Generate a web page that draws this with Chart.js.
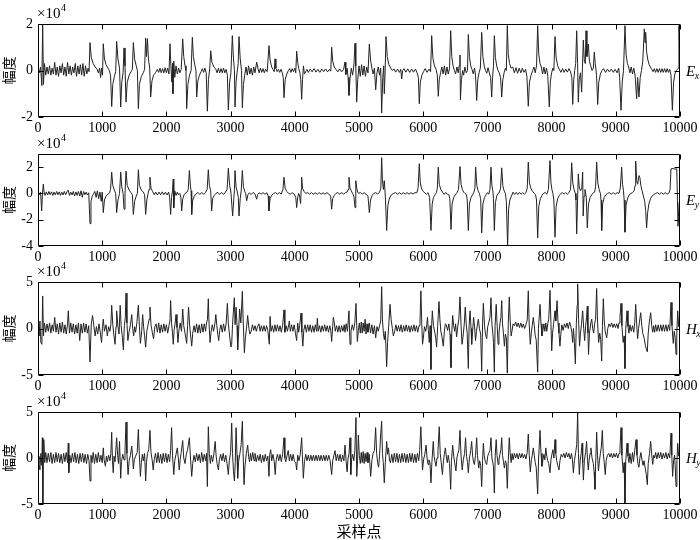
<!DOCTYPE html>
<html><head><meta charset="utf-8">
<script src="https://cdn.jsdelivr.net/npm/chart.js@4.4.0/dist/chart.umd.min.js"></script>
<style>
html,body{margin:0;padding:0;background:#fff;width:700px;height:540px;overflow:hidden}
canvas{position:absolute;left:0}
</style></head><body>
<script>
// ---- data (values in units of 10^4) ----
const xTicks = [0,1000,2000,3000,4000,5000,6000,7000,8000,9000,10000];
const yTicksEx = [-2,0,2];
const yTicksEy = [-4,-2,0,2];
const yTicksHx = [-5,0,5];
const yTicksHy = [-5,0,5];
const yRangeEx = [-2,2];
const yRangeEy = [-4,3];
const yRangeHx = [-5,5];
const yRangeHy = [-5,5];
const seriesNames = [["E","x"],["E","y"],["H","x"],["H","y"]];
const yTitle = "幅度";
const xTitle = "采样点";

const exPoints = [[0,0.05],[20,-0.1],[40,0.15],[60,-0.65],[73,2.0],[85,-0.6],[100,0.3],[120,-0.2],[140,0.15],[160,-0.15],[180,0.2],[200,-0.2],[220,0.1],[240,-0.15],[260,0.35],[280,-0.2],[300,0.15],[320,-0.25],[340,0.2],[360,-0.1],[380,0.3],[400,-0.2],[420,0.15],[440,-0.25],[460,0.35],[480,-0.15],[500,0.2],[520,-0.2],[540,0.15],[560,-0.1],[580,0.3],[600,-0.25],[620,0.2],[640,-0.15],[660,0.25],[680,-0.2],[700,0.3],[720,-0.25],[740,0.2],[760,-0.15],[780,0.1],[795,-0.05],[810,1.2],[830,0.55],[860,0.3],[890,0.15],[920,0.05],[940,-0.1],[960,0.1],[975,-0.3],[990,0.1],[1005,-0.2],[1017,1.15],[1035,0.5],[1060,0.25],[1090,0.1],[1110,0.0],[1130,-0.2],[1148,-1.55],[1165,-0.6],[1190,-0.25],[1210,-0.05],[1225,1.25],[1245,0.5],[1270,0.1],[1288,-1.57],[1305,-0.5],[1325,-0.1],[1340,0.97],[1355,0.2],[1371,-1.36],[1390,-0.5],[1420,-0.2],[1450,-0.05],[1470,0.05],[1485,1.2],[1505,0.5],[1530,0.2],[1548,0.0],[1563,-1.64],[1580,-0.6],[1610,-0.25],[1640,-0.1],[1660,0.05],[1677,1.39],[1690,0.6],[1705,1.37],[1720,0.5],[1740,0.1],[1755,-1.14],[1775,-0.45],[1800,-0.2],[1830,-0.1],[1860,0.05],[1880,-0.08],[1900,0.1],[1920,-0.1],[1940,0.08],[1960,-0.1],[1980,0.12],[2000,-0.1],[2020,0.1],[2040,-0.15],[2056,1.15],[2070,0.2],[2085,-0.5],[2095,0.3],[2102,-1.0],[2115,0.4],[2130,-0.3],[2150,0.2],[2170,-0.15],[2190,0.1],[2210,-0.1],[2230,0.05],[2254,1.36],[2270,0.6],[2290,0.2],[2305,0.0],[2316,-1.64],[2335,-0.6],[2360,-0.2],[2385,0.0],[2404,1.43],[2420,0.6],[2445,0.2],[2460,0.0],[2472,-1.14],[2490,-0.45],[2515,-0.2],[2540,-0.05],[2560,0.08],[2580,-0.08],[2600,0.1],[2620,-0.1],[2638,-1.75],[2655,-0.4],[2675,0.1],[2690,0.85],[2710,0.35],[2740,0.15],[2770,0.05],[2790,-0.1],[2810,0.1],[2830,-0.1],[2850,0.08],[2870,-0.1],[2890,0.1],[2910,-0.1],[2930,0.05],[2950,-0.2],[2965,-1.7],[2985,-0.5],[3005,-0.1],[3027,1.5],[3045,0.5],[3060,0.0],[3069,-1.57],[3085,-0.5],[3100,-0.1],[3118,0.3],[3131,1.46],[3150,0.5],[3170,0.0],[3183,-1.6],[3200,-0.6],[3220,-0.2],[3240,0.15],[3260,-0.2],[3280,0.2],[3300,-0.15],[3320,0.1],[3340,-0.2],[3360,0.15],[3380,-0.1],[3406,0.36],[3425,0.1],[3445,-0.1],[3465,0.1],[3485,-0.08],[3505,0.08],[3525,-0.1],[3545,0.05],[3570,-0.05],[3598,1.07],[3615,0.45],[3640,0.15],[3660,0.05],[3680,-0.05],[3692,0.5],[3705,0.1],[3725,-0.05],[3745,0.05],[3765,-0.08],[3785,0.05],[3805,-0.1],[3820,-0.3],[3832,-1.17],[3850,-0.4],[3875,-0.15],[3900,0.0],[3920,0.08],[3940,-0.08],[3960,0.08],[3980,-0.05],[4000,0.1],[4015,-0.1],[4029,0.83],[4045,0.35],[4060,0.1],[4080,-0.1],[4093,-0.4],[4107,-1.24],[4120,-0.4],[4135,0.2],[4150,-0.15],[4170,-0.05],[4190,0.05],[4210,-0.08],[4240,0.06],[4270,-0.06],[4300,0.08],[4330,-0.07],[4360,0.05],[4390,-0.08],[4420,0.06],[4450,-0.05],[4480,0.07],[4510,-0.06],[4540,0.05],[4560,-0.03],[4574,1.0],[4590,0.4],[4615,0.15],[4640,0.05],[4670,-0.06],[4700,0.07],[4730,-0.06],[4760,0.05],[4782,0.36],[4795,-0.17],[4815,0.1],[4830,-0.3],[4844,-1.07],[4860,-0.35],[4880,0.1],[4900,-0.2],[4920,0.2],[4938,1.17],[4950,0.2],[4964,-1.36],[4980,-0.4],[5000,0.2],[5020,-0.25],[5040,0.25],[5060,-0.2],[5080,0.2],[5100,-0.25],[5120,0.15],[5140,-0.1],[5161,1.14],[5180,0.45],[5200,0.1],[5220,-0.15],[5240,0.1],[5260,-0.83],[5280,-0.1],[5300,0.15],[5320,-0.2],[5338,0.1],[5353,-1.83],[5370,-0.3],[5385,0.2],[5394,-1.0],[5405,-0.2],[5421,1.46],[5440,0.6],[5465,0.25],[5495,0.1],[5520,0.0],[5545,0.07],[5570,-0.07],[5600,0.06],[5630,-0.08],[5650,0.05],[5665,-0.36],[5680,0.0],[5700,0.08],[5730,-0.07],[5760,0.07],[5790,-0.08],[5820,0.06],[5850,-0.07],[5880,0.06],[5905,-0.1],[5925,-0.3],[5939,-1.43],[5955,-0.5],[5980,-0.2],[6005,-0.05],[6030,0.08],[6060,-0.08],[6090,0.06],[6115,-0.05],[6132,1.5],[6150,0.55],[6175,0.2],[6200,0.05],[6220,-0.2],[6235,-1.11],[6250,-0.4],[6270,-0.1],[6290,0.15],[6310,-0.15],[6330,0.2],[6350,-0.2],[6370,0.15],[6390,-0.15],[6410,0.1],[6428,1.71],[6445,0.6],[6465,0.2],[6485,0.0],[6505,-0.15],[6525,0.15],[6545,-0.1],[6560,0.2],[6573,0.67],[6580,-1.26],[6595,-0.4],[6615,0.0],[6630,-0.2],[6650,0.15],[6670,-0.1],[6690,0.0],[6703,1.55],[6720,0.6],[6740,0.2],[6760,0.05],[6780,-0.15],[6800,0.1],[6815,-0.2],[6833,-1.29],[6850,-0.4],[6870,-0.1],[6890,0.1],[6911,1.64],[6930,0.6],[6950,0.2],[6970,0.0],[6990,-0.12],[7010,0.12],[7030,-0.1],[7050,-0.3],[7067,-1.14],[7080,-0.3],[7095,0.2],[7108,1.5],[7125,0.55],[7145,0.2],[7165,0.0],[7185,-0.1],[7205,-0.3],[7223,-1.14],[7240,-0.4],[7260,-0.1],[7280,0.1],[7295,0.0],[7310,1.93],[7325,0.7],[7345,0.3],[7370,0.1],[7395,0.15],[7420,-0.1],[7445,0.12],[7470,-0.12],[7495,0.1],[7520,-0.1],[7545,0.1],[7570,-0.08],[7595,0.05],[7615,-0.25],[7637,-1.54],[7655,-0.5],[7680,-0.2],[7705,0.0],[7725,0.15],[7745,-0.1],[7765,0.2],[7783,1.93],[7800,0.7],[7820,0.3],[7840,0.15],[7860,-0.15],[7880,0.15],[7900,-0.15],[7920,0.1],[7940,-0.2],[7964,-1.57],[7980,-0.5],[8000,-0.1],[8020,0.1],[8035,0.0],[8053,1.46],[8070,0.55],[8095,0.2],[8120,0.05],[8145,-0.08],[8170,0.08],[8195,-0.08],[8220,0.06],[8245,-0.07],[8270,0.08],[8295,-0.05],[8315,-0.3],[8329,-1.46],[8345,-0.4],[8360,0.0],[8375,0.3],[8391,1.71],[8405,0.3],[8416,-1.36],[8430,-0.4],[8450,-0.1],[8468,-0.93],[8480,0.1],[8494,1.31],[8510,0.4],[8525,0.3],[8536,1.71],[8550,0.6],[8572,1.14],[8590,0.4],[8610,0.2],[8630,0.0],[8650,0.1],[8665,0.79],[8680,0.3],[8700,-0.2],[8718,-1.46],[8735,-0.5],[8760,-0.15],[8785,0.0],[8810,0.08],[8840,-0.08],[8870,0.06],[8900,-0.06],[8930,0.06],[8960,-0.08],[8990,0.05],[9020,-0.1],[9045,0.1],[9060,-0.3],[9081,-1.71],[9100,-0.5],[9120,0.0],[9143,1.93],[9160,0.7],[9180,0.3],[9200,0.15],[9220,-0.1],[9240,0.15],[9260,-0.15],[9280,0.1],[9300,-0.2],[9325,-1.21],[9340,-0.3],[9361,-1.14],[9380,-0.3],[9400,0.0],[9420,0.4],[9444,1.79],[9455,1.2],[9465,1.64],[9480,0.8],[9500,0.45],[9520,0.25],[9540,0.15],[9560,0.05],[9580,-0.05],[9600,0.08],[9620,-0.08],[9640,0.08],[9660,-0.08],[9680,0.08],[9700,-0.08],[9720,0.08],[9740,-0.08],[9760,0.08],[9780,-0.08],[9800,0.08],[9820,-0.08],[9840,0.05],[9860,-0.2],[9881,-1.71],[9900,-0.5],[9920,-0.15],[9940,0.0],[9960,0.05],[9975,0.1],[9984,1.93],[10000,0.0]];

const eyPoints = [[0,0.05],[20,-0.1],[40,0.1],[57,-1.33],[70,0.0],[83,0.72],[95,0.1],[110,-0.15],[130,0.12],[150,-0.12],[170,0.15],[190,-0.1],[210,0.12],[230,-0.15],[250,0.1],[270,-0.12],[290,0.15],[310,-0.1],[330,0.12],[350,-0.15],[370,0.1],[390,-0.12],[410,0.15],[430,-0.1],[450,0.12],[470,0.25],[490,-0.15],[510,0.1],[530,-0.12],[550,0.15],[570,-0.2],[590,0.12],[610,-0.15],[630,0.15],[650,-0.2],[670,0.2],[690,-0.3],[710,0.15],[730,-0.1],[750,0.1],[770,-0.12],[790,0.05],[810,-2.3],[825,-0.6],[845,-0.2],[865,-0.05],[885,0.15],[905,-0.3],[925,0.2],[945,-0.4],[965,0.1],[985,-0.6],[1000,0.1],[1017,-1.46],[1035,-0.5],[1060,-0.2],[1090,-0.05],[1115,0.05],[1130,0.3],[1148,1.62],[1165,0.6],[1190,0.25],[1210,0.0],[1225,-1.46],[1245,-0.5],[1270,0.0],[1288,1.62],[1305,0.5],[1325,0.0],[1340,-1.2],[1355,0.0],[1371,1.7],[1390,0.6],[1420,0.25],[1450,0.05],[1470,-0.1],[1485,-1.6],[1505,-0.6],[1530,-0.2],[1548,0.0],[1563,1.8],[1580,0.6],[1610,0.25],[1640,0.1],[1660,-0.1],[1677,-1.6],[1695,-0.5],[1715,0.0],[1730,0.3],[1744,1.23],[1760,0.4],[1785,0.15],[1810,-0.1],[1835,0.1],[1860,-0.12],[1885,0.1],[1910,-0.1],[1935,0.12],[1960,-0.1],[1985,0.1],[2010,-0.12],[2035,0.1],[2050,-0.3],[2066,-1.6],[2080,-0.3],[2095,0.2],[2107,1.1],[2115,-1.1],[2130,0.2],[2150,-0.15],[2170,0.1],[2190,-0.1],[2210,0.0],[2225,-0.3],[2238,-1.33],[2255,-0.4],[2275,-0.1],[2300,0.05],[2320,0.1],[2340,0.3],[2358,1.74],[2375,0.5],[2385,0.2],[2394,-1.6],[2410,-0.5],[2435,-0.2],[2460,-0.05],[2490,0.08],[2520,-0.08],[2550,0.08],[2580,-0.08],[2610,0.08],[2635,0.3],[2653,1.8],[2670,0.6],[2690,0.2],[2705,-1.33],[2720,-0.4],[2745,-0.15],[2770,0.0],[2800,0.08],[2830,-0.08],[2860,0.08],[2890,-0.08],[2920,0.1],[2945,0.3],[2965,1.92],[2985,0.6],[3005,0.1],[3032,-1.72],[3050,-0.4],[3060,0.3],[3069,1.74],[3085,0.5],[3105,0.1],[3120,-0.3],[3131,-1.72],[3150,-0.4],[3165,0.2],[3183,1.74],[3200,0.5],[3220,0.15],[3235,0.0],[3250,-0.56],[3270,-0.1],[3290,0.05],[3320,-0.08],[3350,0.08],[3380,-0.05],[3406,-0.44],[3420,-0.1],[3445,0.05],[3475,-0.06],[3505,0.06],[3535,-0.06],[3565,0.05],[3585,-0.2],[3598,-1.33],[3615,-0.4],[3640,-0.15],[3670,0.0],[3700,0.06],[3730,-0.06],[3760,0.06],[3790,-0.05],[3815,0.3],[3832,1.23],[3850,0.4],[3875,0.15],[3900,0.02],[3930,-0.06],[3960,0.06],[3990,-0.05],[4015,-0.3],[4029,-1.08],[4045,-0.3],[4060,0.0],[4075,-0.2],[4090,-0.77],[4100,0.3],[4107,1.23],[4120,0.4],[4145,0.15],[4170,0.0],[4200,0.06],[4230,-0.06],[4260,0.06],[4290,-0.06],[4320,0.05],[4350,-0.06],[4380,0.06],[4410,-0.06],[4440,0.05],[4470,-0.06],[4500,0.06],[4530,-0.05],[4558,-0.2],[4574,-1.2],[4590,-0.4],[4615,-0.15],[4640,0.0],[4670,0.06],[4700,-0.06],[4730,0.06],[4760,-0.05],[4790,0.06],[4815,0.1],[4830,0.3],[4844,1.23],[4860,0.4],[4880,0.2],[4900,0.0],[4920,-0.2],[4938,-1.08],[4950,0.97],[4965,0.4],[4980,0.1],[4995,0.0],[5020,0.08],[5050,-0.06],[5080,0.06],[5110,-0.06],[5140,-0.2],[5161,-1.46],[5180,-0.5],[5205,-0.15],[5230,0.0],[5260,0.06],[5290,-0.05],[5320,0.1],[5340,0.4],[5353,2.72],[5365,1.0],[5380,0.3],[5394,0.97],[5410,-0.2],[5431,-2.82],[5450,-0.9],[5475,-0.35],[5505,-0.1],[5540,0.0],[5570,0.06],[5600,-0.06],[5630,0.06],[5660,-0.06],[5690,0.06],[5720,-0.05],[5750,0.06],[5780,-0.06],[5810,0.06],[5840,-0.05],[5870,0.06],[5900,0.05],[5920,0.4],[5939,2.26],[5955,0.8],[5975,0.35],[6000,0.15],[6025,0.05],[6050,-0.06],[6075,0.06],[6100,-0.3],[6121,-2.82],[6140,-0.8],[6160,-0.3],[6185,-0.1],[6205,0.05],[6220,0.4],[6235,2.0],[6250,0.7],[6275,0.3],[6300,0.1],[6325,-0.08],[6350,0.08],[6375,-0.06],[6400,-0.1],[6415,-0.4],[6433,-2.74],[6450,-0.8],[6475,-0.3],[6500,-0.1],[6525,0.05],[6550,0.3],[6573,2.05],[6590,0.7],[6610,0.3],[6630,0.1],[6650,0.0],[6670,-0.06],[6685,-0.4],[6703,-2.82],[6720,-0.8],[6745,-0.3],[6770,-0.1],[6790,0.1],[6805,0.4],[6817,2.0],[6835,0.6],[6855,0.2],[6875,0.0],[6895,-0.4],[6911,-3.0],[6930,-0.8],[6955,-0.3],[6980,-0.1],[7000,0.06],[7020,-0.06],[7040,0.3],[7056,2.0],[7070,0.6],[7085,0.2],[7095,-0.4],[7108,-2.82],[7125,-0.7],[7145,-0.2],[7165,0.0],[7185,0.06],[7205,0.4],[7223,1.95],[7240,0.6],[7260,0.2],[7280,0.0],[7295,-0.6],[7315,-4.0],[7330,-1.2],[7350,-0.5],[7375,-0.2],[7400,0.1],[7425,-0.08],[7450,0.08],[7475,-0.08],[7500,0.08],[7525,-0.06],[7550,0.06],[7575,-0.06],[7600,0.05],[7620,0.4],[7637,2.38],[7655,0.8],[7680,0.35],[7705,0.15],[7730,0.0],[7750,-0.1],[7765,-0.5],[7783,-3.38],[7800,-1.0],[7825,-0.4],[7850,-0.15],[7875,0.0],[7900,0.08],[7925,-0.06],[7950,0.3],[7975,2.5],[7990,0.8],[8005,0.3],[8020,0.0],[8035,-0.5],[8053,-3.33],[8070,-1.0],[8095,-0.4],[8120,-0.15],[8145,0.0],[8170,0.06],[8195,-0.06],[8220,0.06],[8245,-0.06],[8270,0.06],[8295,0.3],[8313,2.33],[8330,0.8],[8350,0.3],[8370,0.0],[8380,-0.5],[8391,-3.08],[8405,-0.5],[8416,1.49],[8430,0.5],[8450,0.2],[8470,0.4],[8484,1.62],[8492,-1.72],[8505,-0.2],[8520,0.3],[8540,-0.3],[8556,-2.62],[8575,-0.8],[8600,-0.3],[8625,-0.1],[8650,0.05],[8670,0.1],[8685,0.5],[8702,2.38],[8720,0.8],[8740,0.3],[8760,0.0],[8770,-0.5],[8780,-2.82],[8795,-0.8],[8820,-0.3],[8845,-0.1],[8870,0.0],[8900,0.06],[8930,-0.06],[8960,0.06],[8990,-0.06],[9020,0.06],[9050,0.0],[9070,0.4],[9091,2.0],[9105,0.7],[9120,0.2],[9130,-0.5],[9143,-2.95],[9160,-0.9],[9185,-0.35],[9210,-0.1],[9235,0.0],[9260,0.06],[9285,0.2],[9300,0.6],[9310,2.46],[9325,1.0],[9340,0.7],[9361,1.36],[9375,1.2],[9390,0.6],[9410,0.2],[9430,-0.2],[9450,-0.6],[9465,-1.3],[9480,-2.62],[9495,-1.5],[9515,-0.8],[9540,-0.4],[9565,-0.2],[9590,-0.1],[9620,0.0],[9650,0.06],[9680,-0.06],[9710,0.06],[9740,-0.06],[9770,0.06],[9800,-0.06],[9830,0.05],[9845,0.3],[9860,1.87],[9890,1.9],[9920,1.85],[9950,1.87],[9969,-2.5],[9985,-0.8],[10000,-0.3]];

const hxPoints = [[0,0.2],[15,-0.8],[30,0.8],[45,-1.5],[60,-1.7],[73,3.5],[85,-0.8],[100,0.6],[120,-0.4],[140,0.5],[160,-0.3],[180,0.6],[200,-0.5],[220,0.4],[240,-0.3],[260,1.2],[280,-0.4],[300,0.5],[320,-0.6],[340,0.6],[360,-0.4],[380,0.7],[400,-0.5],[420,0.4],[440,-0.6],[460,0.5],[472,1.9],[490,-0.5],[510,0.6],[530,-0.4],[550,0.5],[570,-0.6],[590,0.4],[610,-0.5],[630,0.6],[650,-1.3],[670,0.5],[690,-0.5],[710,0.6],[730,-0.4],[750,0.5],[770,-0.5],[790,0.3],[810,-3.6],[830,0.5],[850,1.4],[870,0.3],[890,-0.8],[910,0.2],[930,-0.6],[950,0.5],[970,-0.4],[990,-1.5],[1005,0.2],[1017,1.0],[1035,-0.3],[1060,0.4],[1080,-0.8],[1100,0.2],[1120,-0.3],[1135,0.4],[1148,2.5],[1165,0.4],[1180,-0.6],[1200,-1.7],[1215,0.2],[1225,1.9],[1245,0.2],[1262,-0.6],[1280,2.5],[1295,0.3],[1315,-1.0],[1330,-2.3],[1345,0.3],[1360,1.2],[1371,3.8],[1385,0.6],[1400,-1.3],[1420,-0.3],[1440,0.4],[1460,1.5],[1475,0.0],[1490,-0.8],[1505,0.2],[1520,-0.4],[1540,0.6],[1563,2.5],[1580,0.2],[1595,-1.6],[1615,-0.3],[1630,1.5],[1645,0.2],[1660,-0.8],[1677,-2.0],[1695,-0.3],[1715,0.4],[1730,1.0],[1744,2.3],[1760,0.4],[1780,-0.4],[1800,-1.1],[1820,0.2],[1840,0.5],[1860,-0.4],[1880,0.6],[1900,-0.5],[1920,0.4],[1940,-0.4],[1960,0.5],[1980,-0.3],[2000,0.4],[2020,-0.5],[2040,0.3],[2055,0.8],[2066,3.0],[2080,0.6],[2095,-0.5],[2107,-1.7],[2120,-0.2],[2135,0.5],[2150,1.5],[2165,0.1],[2180,-1.5],[2195,-0.2],[2215,0.6],[2235,-0.3],[2254,2.1],[2270,0.3],[2290,-0.5],[2316,-1.6],[2330,0.3],[2345,2.3],[2360,0.5],[2375,-0.6],[2394,-1.9],[2410,-0.5],[2430,0.3],[2450,-0.4],[2470,0.5],[2490,-0.5],[2510,0.4],[2530,-0.5],[2550,0.5],[2570,-0.4],[2590,0.5],[2610,-0.3],[2625,0.6],[2640,1.0],[2653,3.2],[2665,0.4],[2680,-1.5],[2695,-0.4],[2715,0.4],[2735,-0.3],[2755,0.5],[2770,1.5],[2785,0.3],[2800,-0.6],[2815,-1.3],[2830,-0.2],[2850,0.4],[2870,-0.4],[2890,0.5],[2910,-0.3],[2930,0.5],[2950,2.7],[2965,0.5],[2985,-0.8],[3005,-2.0],[3017,-1.7],[3030,0.4],[3058,3.3],[3070,0.4],[3085,2.3],[3100,0.3],[3110,-2.3],[3125,-0.3],[3140,2.1],[3160,0.6],[3183,4.0],[3195,1.0],[3215,-2.6],[3230,-1.0],[3250,0.2],[3266,1.4],[3285,0.0],[3300,-0.6],[3320,-0.3],[3340,0.4],[3360,-0.2],[3380,0.3],[3400,-0.3],[3420,0.2],[3442,0.5],[3460,-0.3],[3480,0.3],[3500,-0.3],[3520,0.3],[3540,-0.3],[3560,0.3],[3580,-0.2],[3603,-1.7],[3615,1.3],[3630,-0.3],[3650,0.3],[3670,-0.4],[3690,0.4],[3710,-0.3],[3730,0.4],[3750,-0.3],[3770,0.3],[3790,-0.4],[3810,0.3],[3832,2.0],[3845,-0.4],[3865,0.3],[3885,-0.3],[3905,0.4],[3915,0.8],[3930,-0.3],[3950,0.4],[3970,-0.3],[3990,0.4],[4010,-0.5],[4029,-1.3],[4045,0.6],[4060,-0.4],[4075,0.3],[4097,1.65],[4110,-0.4],[4125,-1.9],[4140,-0.2],[4160,0.4],[4180,-0.4],[4200,0.4],[4220,-0.3],[4240,0.4],[4260,-0.4],[4280,0.3],[4300,-0.4],[4320,0.4],[4340,-0.3],[4351,1.1],[4365,-0.3],[4385,0.3],[4405,-0.4],[4425,0.3],[4445,-0.3],[4465,0.4],[4485,-0.3],[4505,0.3],[4525,-0.4],[4545,0.3],[4560,-0.2],[4574,-1.4],[4590,0.2],[4600,1.2],[4616,0.6],[4630,-0.3],[4650,0.3],[4670,-0.4],[4690,0.3],[4710,-0.4],[4730,0.3],[4750,-0.3],[4770,0.4],[4782,-0.4],[4800,0.5],[4820,-0.3],[4844,1.9],[4860,-1.7],[4875,-0.3],[4895,0.4],[4915,-0.2],[4935,0.6],[4953,2.7],[4965,0.3],[4974,-1.4],[4990,-0.2],[5005,0.6],[5020,-0.5],[5035,0.7],[5050,-0.5],[5065,0.6],[5080,-0.3],[5095,1.0],[5110,-0.6],[5125,0.5],[5140,-0.4],[5160,0.6],[5180,-0.5],[5200,0.4],[5220,-0.6],[5240,0.3],[5260,-1.0],[5280,0.2],[5300,-0.3],[5320,0.3],[5338,0.8],[5353,4.5],[5365,1.0],[5380,-0.5],[5395,-1.2],[5410,-0.3],[5431,-4.1],[5445,-1.5],[5465,0.5],[5483,2.6],[5500,1.0],[5520,0.0],[5535,-0.8],[5555,-0.3],[5575,0.4],[5595,-0.3],[5615,0.3],[5635,-0.3],[5655,0.4],[5675,-0.4],[5695,0.3],[5715,-0.3],[5735,0.4],[5755,-0.3],[5775,0.3],[5795,-0.4],[5815,0.3],[5835,-0.3],[5855,0.4],[5875,-0.3],[5895,0.3],[5915,-0.4],[5935,0.3],[5950,0.8],[5964,4.05],[5978,0.5],[5990,-1.7],[6005,-0.8],[6020,0.2],[6040,-0.3],[6055,0.4],[6067,1.2],[6080,-0.2],[6095,-1.5],[6108,0.3],[6121,-4.4],[6131,0.2],[6142,1.9],[6160,0.3],[6180,-0.4],[6195,-1.0],[6209,-2.0],[6225,0.2],[6246,2.9],[6260,1.0],[6275,-0.3],[6295,-1.0],[6313,-1.9],[6330,-0.3],[6345,0.5],[6360,0.4],[6380,-0.2],[6400,0.5],[6418,-0.6],[6433,-4.2],[6445,-0.5],[6459,1.4],[6475,0.3],[6490,-0.3],[6505,0.5],[6520,-0.9],[6540,0.3],[6555,1.0],[6573,3.4],[6590,0.3],[6605,-1.7],[6620,-0.9],[6640,0.5],[6655,2.3],[6670,0.5],[6685,-0.5],[6703,-4.3],[6715,0.3],[6730,1.9],[6745,0.0],[6755,-1.7],[6770,-0.3],[6785,1.2],[6800,0.2],[6815,-1.3],[6830,-0.3],[6845,0.5],[6860,1.0],[6875,0.0],[6895,-0.6],[6911,-4.6],[6925,0.5],[6937,2.7],[6955,0.3],[6970,-0.6],[6989,-1.1],[7005,0.2],[7020,0.6],[7040,1.2],[7056,3.3],[7070,0.5],[7085,-0.5],[7095,-1.5],[7108,-4.7],[7120,0.3],[7137,2.6],[7150,0.6],[7167,-1.7],[7180,-0.5],[7195,0.5],[7210,1.2],[7223,3.0],[7235,0.5],[7250,-0.5],[7265,-1.9],[7280,-0.6],[7295,-1.0],[7310,-4.8],[7325,0.5],[7341,3.4],[7355,0.8],[7370,-0.8],[7385,-0.2],[7400,0.5],[7420,0.3],[7440,0.7],[7460,0.2],[7480,0.6],[7500,0.1],[7520,0.6],[7540,0.1],[7560,0.5],[7580,0.0],[7600,0.4],[7620,0.9],[7637,4.05],[7650,0.6],[7668,-1.7],[7685,-0.4],[7700,0.4],[7715,1.2],[7730,0.3],[7745,-0.8],[7760,-1.2],[7783,-4.7],[7795,0.0],[7820,2.6],[7835,0.5],[7850,-0.8],[7865,-0.2],[7880,0.5],[7895,-0.3],[7910,0.6],[7925,-0.3],[7940,0.5],[7955,1.0],[7975,4.1],[7990,0.5],[8002,-2.4],[8015,-0.5],[8030,0.4],[8053,1.9],[8065,0.8],[8085,3.0],[8100,0.6],[8115,-0.5],[8130,-1.9],[8145,-0.5],[8160,0.4],[8180,-0.2],[8200,0.5],[8220,0.1],[8240,0.6],[8260,0.0],[8280,0.7],[8300,0.2],[8315,-0.4],[8329,-1.5],[8340,0.0],[8355,-1.5],[8370,-3.8],[8385,0.5],[8398,2.5],[8406,4.8],[8420,1.0],[8435,-1.9],[8450,-0.5],[8465,0.4],[8484,1.9],[8500,0.0],[8515,-1.3],[8530,0.3],[8545,1.2],[8556,2.4],[8566,-0.5],[8575,-2.8],[8590,-0.5],[8610,0.6],[8625,1.0],[8640,0.0],[8655,-0.5],[8670,0.5],[8685,1.0],[8702,4.3],[8715,0.8],[8733,-1.5],[8750,-0.5],[8765,-1.2],[8780,-3.5],[8792,0.3],[8806,3.2],[8820,0.8],[8835,-0.3],[8858,-1.0],[8875,0.0],[8895,0.5],[8915,0.2],[8935,0.6],[8955,0.1],[8975,0.5],[8995,0.1],[9015,0.5],[9035,0.0],[9050,0.6],[9065,1.2],[9081,2.7],[9095,0.3],[9115,-1.5],[9130,-0.8],[9143,-4.3],[9155,0.0],[9175,1.9],[9190,0.2],[9205,-0.5],[9220,0.4],[9240,-0.3],[9260,0.3],[9280,-0.4],[9295,0.6],[9310,2.6],[9325,0.5],[9340,-1.1],[9355,0.0],[9370,0.8],[9388,1.7],[9405,0.3],[9420,-0.5],[9440,-1.0],[9460,-1.8],[9475,-2.2],[9491,-2.5],[9505,-0.5],[9520,0.6],[9543,1.7],[9560,0.3],[9575,-0.4],[9590,0.3],[9605,-0.4],[9620,0.4],[9640,-0.3],[9660,0.4],[9680,-0.3],[9700,0.4],[9720,-0.3],[9740,0.4],[9760,-0.3],[9780,0.4],[9800,-0.3],[9820,0.4],[9840,-0.2],[9860,2.8],[9875,0.3],[9895,-1.6],[9910,-0.3],[9925,-1.0],[9938,-2.8],[9950,-0.5],[9964,1.9],[9980,0.2],[10000,0.5]];

const hyPoints = [[0,0.2],[15,-0.6],[30,-1.3],[45,0.5],[60,-0.8],[68,2.2],[75,-5.0],[82,-0.3],[90,2.0],[105,-0.5],[120,0.6],[140,-0.5],[160,0.5],[180,-0.4],[200,0.6],[220,-0.6],[240,0.4],[260,-0.5],[280,0.6],[300,-0.4],[320,0.5],[340,-0.5],[360,0.4],[380,-0.6],[400,0.5],[420,-0.4],[440,0.6],[460,-0.5],[472,1.6],[480,-1.6],[495,0.3],[515,-0.5],[535,0.5],[555,-0.4],[575,0.6],[595,-0.5],[615,0.4],[635,-0.6],[655,0.5],[675,-0.4],[695,0.5],[715,-0.5],[735,0.4],[755,-0.6],[775,0.4],[795,-0.3],[810,-2.5],[825,0.3],[840,-0.5],[860,0.6],[880,-0.6],[900,0.4],[920,-0.5],[940,0.6],[960,-0.4],[980,0.3],[1000,-0.5],[1017,1.1],[1030,-0.2],[1050,-0.9],[1065,0.2],[1080,-0.4],[1100,0.3],[1120,-0.3],[1135,0.5],[1148,2.8],[1160,-0.3],[1172,-1.6],[1185,0.2],[1200,-0.4],[1225,2.2],[1240,0.3],[1255,-0.6],[1270,1.8],[1288,-2.2],[1300,-0.4],[1320,0.4],[1340,-0.2],[1355,0.8],[1371,3.9],[1385,0.5],[1403,-1.8],[1420,-0.3],[1440,0.3],[1460,1.3],[1475,0.0],[1485,-1.2],[1500,-0.2],[1520,0.2],[1545,0.6],[1563,3.1],[1578,0.4],[1595,-2.0],[1610,-0.5],[1625,0.4],[1640,-0.3],[1660,0.5],[1677,-2.5],[1690,-0.5],[1705,0.5],[1725,0.9],[1744,3.0],[1760,0.6],[1780,-0.3],[1795,-1.3],[1810,-0.2],[1830,0.5],[1850,-0.5],[1870,0.6],[1890,-0.5],[1910,0.4],[1930,-0.6],[1950,0.5],[1970,-0.4],[1990,0.5],[2010,-0.5],[2030,0.4],[2050,-0.4],[2065,0.8],[2081,3.3],[2095,0.3],[2115,-1.8],[2130,-0.3],[2150,0.4],[2170,1.1],[2185,0.0],[2200,-1.3],[2215,-0.2],[2230,0.6],[2254,1.9],[2270,0.0],[2290,-0.6],[2310,0.4],[2330,0.9],[2358,2.2],[2375,0.0],[2394,-2.0],[2410,-0.6],[2430,0.3],[2450,-0.4],[2470,0.5],[2490,-0.3],[2510,0.4],[2530,-0.5],[2550,0.6],[2570,-0.4],[2590,0.4],[2610,-0.3],[2625,0.5],[2638,-3.1],[2653,3.4],[2668,0.5],[2685,-0.6],[2700,0.3],[2720,-0.4],[2740,0.5],[2760,1.8],[2775,0.2],[2790,-0.6],[2810,-1.3],[2825,-0.2],[2845,0.4],[2865,-0.3],[2885,0.5],[2905,-0.4],[2925,0.3],[2945,-0.6],[2965,-1.8],[2980,-0.3],[3000,0.6],[3017,3.8],[3030,0.5],[3045,-1.5],[3060,-2.5],[3072,-0.5],[3085,3.3],[3100,0.3],[3110,-2.2],[3125,-0.4],[3145,0.5],[3165,1.5],[3183,4.0],[3195,0.5],[3209,-2.9],[3225,-0.8],[3245,0.5],[3266,1.4],[3280,0.2],[3295,-0.4],[3310,0.5],[3325,-0.3],[3345,0.6],[3365,-0.3],[3380,0.5],[3400,-0.4],[3420,0.3],[3440,-0.3],[3460,0.4],[3480,-0.5],[3500,0.3],[3520,-0.4],[3540,0.4],[3560,-0.3],[3580,0.2],[3598,-2.0],[3610,0.4],[3625,0.9],[3640,-0.3],[3660,0.4],[3680,-0.4],[3695,-1.8],[3710,-0.2],[3730,0.4],[3750,-0.3],[3770,0.4],[3790,-0.4],[3810,0.4],[3832,2.2],[3845,0.0],[3860,-0.4],[3880,0.3],[3898,0.8],[3915,-0.3],[3935,0.4],[3955,-0.3],[3975,0.4],[3995,-0.4],[4015,-0.5],[4029,-1.3],[4045,0.3],[4065,-0.3],[4085,0.4],[4107,2.2],[4120,0.0],[4133,-2.2],[4150,-0.4],[4170,0.4],[4190,-0.3],[4210,0.3],[4230,-0.3],[4250,0.3],[4270,-0.3],[4290,0.3],[4310,-0.3],[4330,0.3],[4350,-0.3],[4370,0.3],[4390,-0.3],[4410,0.3],[4430,-0.3],[4450,0.3],[4470,-0.3],[4490,0.3],[4510,-0.3],[4530,0.3],[4550,-0.3],[4574,-1.8],[4590,-0.3],[4610,0.3],[4626,0.8],[4645,-0.3],[4665,0.4],[4685,-0.3],[4705,0.4],[4725,-0.4],[4745,0.3],[4765,-0.3],[4782,1.4],[4800,-0.4],[4815,-1.5],[4830,0.0],[4845,0.5],[4860,2.2],[4872,-1.8],[4885,-0.2],[4900,0.4],[4920,-0.3],[4935,0.8],[4953,4.4],[4965,-2.0],[4978,-0.3],[4990,2.5],[5005,0.3],[5020,-0.6],[5035,0.6],[5050,-0.5],[5065,0.7],[5080,-0.6],[5095,0.5],[5110,-0.4],[5125,0.6],[5140,-0.5],[5160,0.4],[5182,-2.0],[5200,-0.3],[5220,0.5],[5240,0.8],[5259,3.3],[5275,0.5],[5290,-0.5],[5305,-1.0],[5320,0.2],[5337,2.5],[5353,4.0],[5365,0.5],[5378,-0.5],[5394,-2.7],[5410,-0.5],[5431,1.8],[5445,0.4],[5460,1.1],[5475,-0.3],[5490,-0.5],[5510,0.4],[5530,-0.5],[5550,0.5],[5570,-0.4],[5590,0.5],[5610,-0.5],[5630,0.4],[5650,-0.5],[5670,0.5],[5690,-0.4],[5710,0.5],[5730,-0.5],[5750,0.4],[5770,-0.5],[5790,0.5],[5810,-0.4],[5830,0.5],[5850,-0.5],[5870,0.4],[5890,-0.5],[5910,0.5],[5930,-0.3],[5945,0.8],[5964,3.4],[5978,0.3],[5990,-1.3],[6005,-0.2],[6025,0.4],[6045,1.4],[6060,0.0],[6075,-0.7],[6090,-0.2],[6105,-0.5],[6121,-2.7],[6135,-0.5],[6157,1.8],[6170,0.2],[6185,-0.4],[6200,-0.9],[6215,0.0],[6230,0.8],[6250,3.4],[6265,0.5],[6280,-0.5],[6300,-1.8],[6315,-0.3],[6330,0.4],[6345,1.1],[6360,0.2],[6375,-0.5],[6390,0.3],[6410,-0.6],[6428,-3.4],[6440,-0.3],[6459,1.4],[6475,0.2],[6490,-0.5],[6510,-1.4],[6525,0.0],[6540,0.5],[6555,0.8],[6573,3.0],[6590,0.2],[6608,-1.3],[6625,-0.2],[6645,0.5],[6660,2.2],[6675,0.2],[6690,-0.5],[6703,-1.6],[6720,0.0],[6740,0.8],[6755,1.8],[6770,0.2],[6785,-0.5],[6798,-0.7],[6815,0.3],[6833,2.2],[6845,0.3],[6865,-1.1],[6880,-0.3],[6895,-0.8],[6911,-3.1],[6925,-0.3],[6937,1.6],[6950,0.3],[6970,-0.5],[6989,-0.7],[7005,0.2],[7020,0.5],[7040,0.8],[7056,2.2],[7070,0.0],[7085,-0.5],[7095,-1.0],[7108,-3.8],[7122,0.3],[7137,2.0],[7150,0.3],[7167,-0.7],[7180,-0.2],[7195,0.4],[7210,0.9],[7223,2.2],[7235,0.3],[7250,-0.4],[7265,-1.1],[7280,-0.3],[7295,-0.6],[7310,-3.3],[7325,-0.3],[7341,2.2],[7355,0.5],[7370,-0.5],[7385,0.5],[7400,-0.2],[7420,0.5],[7440,0.0],[7460,0.5],[7480,-0.1],[7500,0.5],[7520,0.0],[7540,0.5],[7560,0.0],[7580,0.4],[7600,-0.1],[7620,0.6],[7637,2.6],[7652,0.3],[7668,-1.5],[7685,-0.2],[7700,0.3],[7715,1.1],[7730,0.3],[7745,-0.5],[7760,-1.0],[7783,-3.9],[7798,0.0],[7820,3.0],[7835,0.5],[7850,-0.9],[7865,-0.2],[7880,0.4],[7895,-0.2],[7910,1.1],[7925,0.2],[7940,-0.3],[7955,-0.6],[7975,-1.6],[7990,-0.2],[8005,0.4],[8020,0.9],[8035,0.0],[8053,2.0],[8065,0.5],[8080,-0.3],[8095,-0.8],[8115,-1.3],[8130,-0.3],[8150,0.4],[8170,0.1],[8190,0.5],[8210,0.0],[8230,0.6],[8250,0.1],[8270,0.5],[8290,-0.1],[8310,0.5],[8325,-0.2],[8339,-1.6],[8355,-0.3],[8375,0.6],[8392,1.5],[8406,5.0],[8418,0.5],[8432,-1.8],[8445,-0.3],[8460,0.5],[8475,1.6],[8484,-0.5],[8495,-2.4],[8510,-0.3],[8530,0.6],[8545,1.8],[8560,-0.3],[8572,-1.3],[8585,-0.2],[8600,0.5],[8612,1.1],[8630,0.0],[8650,-0.6],[8662,-1.5],[8675,-3.4],[8690,0.2],[8702,2.8],[8715,0.3],[8730,-1.4],[8745,-0.3],[8760,0.5],[8775,1.2],[8790,3.0],[8805,0.5],[8820,-0.5],[8836,-1.8],[8850,-0.3],[8870,0.3],[8890,0.5],[8910,0.1],[8930,0.5],[8950,0.0],[8970,0.5],[8990,0.1],[9010,0.5],[9030,0.0],[9050,0.5],[9065,1.0],[9081,3.3],[9095,0.3],[9115,-1.6],[9130,-0.5],[9143,-5.0],[9155,-0.3],[9175,1.6],[9190,0.2],[9205,-0.5],[9220,0.5],[9240,-0.6],[9260,0.6],[9275,-0.4],[9295,0.8],[9315,2.0],[9330,0.3],[9345,-0.6],[9360,-1.0],[9375,0.0],[9390,0.6],[9410,-0.3],[9425,-0.8],[9440,-0.3],[9460,-1.2],[9475,-1.8],[9491,-2.9],[9505,-0.6],[9525,0.5],[9543,1.8],[9560,0.3],[9575,-0.7],[9590,0.3],[9605,0.0],[9620,0.6],[9640,-0.1],[9660,0.6],[9680,0.0],[9700,0.6],[9720,-0.1],[9740,0.5],[9760,0.0],[9780,0.6],[9800,-0.1],[9820,0.5],[9840,0.0],[9860,2.7],[9872,0.3],[9885,-2.0],[9900,-0.3],[9915,0.3],[9925,-0.8],[9938,-3.1],[9952,-0.3],[9964,1.6],[9980,0.2],[10000,0.5]];

// ---- layout ----
const PANELS = [
  {pts: exPoints, ticks: yTicksEx, range: yRangeEx, top: 24,  bottom: 117},
  {pts: eyPoints, ticks: yTicksEy, range: yRangeEy, top: 154, bottom: 246},
  {pts: hxPoints, ticks: yTicksHx, range: yRangeHx, top: 282, bottom: 375},
  {pts: hyPoints, ticks: yTicksHy, range: yRangeHy, top: 412, bottom: 504}
];
const PAD_TOP = 24, X_AXIS_H = 22, LEFT_W = 38, RIGHT_PAD = 20;
const SERIF = '"Liberation Serif", "Times New Roman", serif';
const CJK = '"Noto Sans CJK SC", sans-serif';

function framePlugin(k, canvasTop, isLast) {
  return {
    id: 'frame' + k,
    afterDraw(chart) {
      const ctx = chart.ctx, a = chart.chartArea;
      const xs = chart.scales.x, ys = chart.scales.y;
      const L = Math.round(a.left) + 0.5, R = Math.round(a.right) - 0.5;
      const T = Math.round(a.top) + 0.5, B = Math.round(a.bottom) - 0.5;
      ctx.save();
      ctx.strokeStyle = '#000'; ctx.lineWidth = 1;
      ctx.beginPath();
      ctx.rect(L, T, R - L, B - T);
      const tl = 5;
      xTicks.forEach(v => {
        const px = Math.round(xs.getPixelForValue(v)) + 0.5;
        ctx.moveTo(px, B); ctx.lineTo(px, B - tl);
        ctx.moveTo(px, T); ctx.lineTo(px, T + tl);
      });
      PANELS[k].ticks.forEach(v => {
        const py = Math.round(ys.getPixelForValue(v)) + 0.5;
        ctx.moveTo(L, py); ctx.lineTo(L + tl, py);
        ctx.moveTo(R, py); ctx.lineTo(R - tl, py);
      });
      ctx.stroke();
      ctx.fillStyle = '#000';
      // x10^4
      ctx.textAlign = 'left'; ctx.textBaseline = 'alphabetic';
      ctx.font = '15px ' + SERIF;
      ctx.fillText('×10', a.left - 1, a.top - 6);
      const w = ctx.measureText('×10').width;
      ctx.font = '10px ' + SERIF;
      ctx.fillText('4', a.left - 1 + w + 0.5, a.top - 13);
      // right label
      const cy = (a.top + a.bottom) / 2;
      const nm = seriesNames[k];
      ctx.font = 'italic 15px ' + SERIF;
      ctx.fillText(nm[0], a.right + 6, cy + 5);
      const w2 = ctx.measureText(nm[0]).width;
      ctx.font = 'italic 10px ' + SERIF;
      ctx.fillText(nm[1], a.right + 6 + w2 - 0.5, cy + 8);
      // y title
      ctx.save();
      ctx.translate(9, cy);
      ctx.rotate(-Math.PI / 2);
      ctx.textAlign = 'center'; ctx.textBaseline = 'middle';
      ctx.font = '14px ' + CJK;
      ctx.fillText(yTitle, 0, 0);
      ctx.restore();
      if (isLast) {
        ctx.textAlign = 'center'; ctx.textBaseline = 'middle';
        ctx.font = '15px ' + CJK;
        ctx.fillText(xTitle, (a.left + a.right) / 2, 531 - canvasTop);
      }
      ctx.restore();
    }
  };
}

PANELS.forEach((p, k) => {
  const isLast = k === PANELS.length - 1;
  const padBottom = isLast ? 20 : 0;
  const canvasTop = p.top - PAD_TOP;
  const h = (p.bottom - p.top) + PAD_TOP + X_AXIS_H + padBottom;
  const cv = document.createElement('canvas');
  cv.width = 700; cv.height = h;
  cv.style.top = canvasTop + 'px';
  cv.style.width = '700px'; cv.style.height = h + 'px';
  document.body.appendChild(cv);
  new Chart(cv, {
    type: 'line',
    data: { datasets: [{
      data: p.pts.map(d => ({x: d[0], y: d[1]})),
      borderColor: '#222', borderWidth: 1, pointRadius: 0, tension: 0, fill: false
    }]},
    options: {
      responsive: false, animation: false, events: [], devicePixelRatio: 1,
      parsing: false,
      layout: { padding: { top: PAD_TOP, right: RIGHT_PAD, left: 0, bottom: padBottom } },
      plugins: { legend: { display: false }, tooltip: { enabled: false } },
      scales: {
        x: {
          type: 'linear', min: 0, max: 10000,
          grid: { display: false, drawTicks: false }, border: { display: false },
          afterBuildTicks: s => { s.ticks = xTicks.map(v => ({value: v})); },
          ticks: { font: { family: SERIF, size: 14 }, color: '#000', padding: 3,
                   maxRotation: 0, autoSkip: false, callback: v => String(v) },
          afterFit: s => { s.height = X_AXIS_H; s.paddingLeft = 0; s.paddingRight = 0; }
        },
        y: {
          type: 'linear', min: p.range[0], max: p.range[1],
          grid: { display: false, drawTicks: false }, border: { display: false },
          afterBuildTicks: s => { s.ticks = p.ticks.map(v => ({value: v})); },
          ticks: { font: { family: SERIF, size: 14 }, color: '#000', padding: 5,
                   autoSkip: false, callback: v => String(v) },
          afterFit: s => { s.width = LEFT_W; }
        }
      }
    },
    plugins: [framePlugin(k, canvasTop, isLast)]
  });
});
</script>
</body></html>
